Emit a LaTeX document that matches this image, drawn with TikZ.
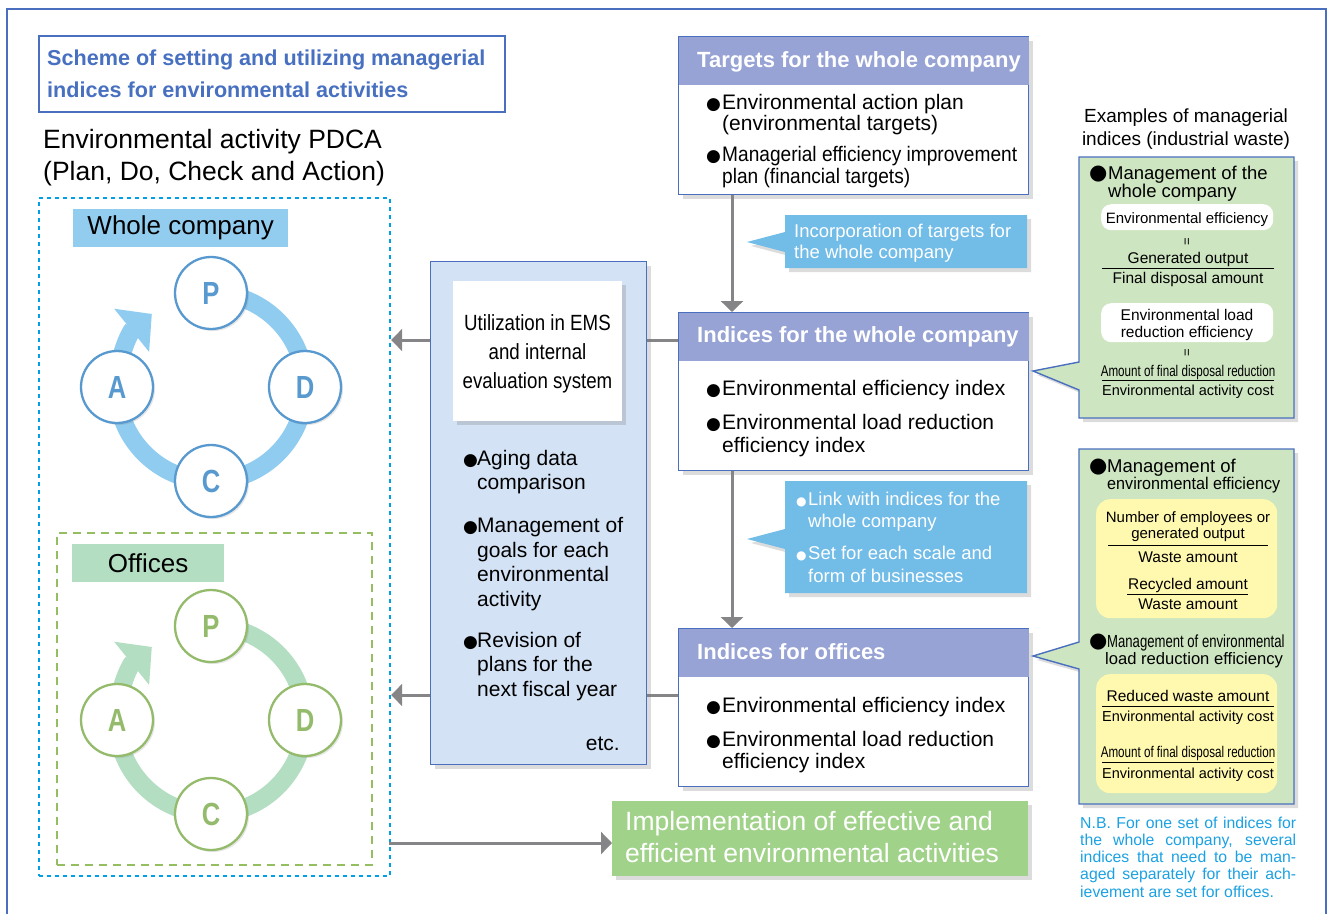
\documentclass[tikz,border=0pt]{standalone}
\usepackage{fontspec}
\usepackage{graphicx}
\setmainfont{Liberation Sans}
\newfontfamily\cnd[FakeStretch=0.85]{Liberation Sans}
\newfontfamily\cndL[FakeStretch=0.8]{Liberation Sans}
\newfontfamily\cndB[FakeStretch=0.75]{Liberation Sans}
\newfontfamily\cndC[FakeStretch=0.91]{Liberation Sans}
\newfontfamily\cndD[FakeStretch=0.95]{Liberation Sans}
\newfontfamily\dvs{DejaVu Sans}
\usetikzlibrary{arrows.meta,shadows}
\newcommand\fsz[2]{\fontsize{#1}{#2}\selectfont}
\newcommand\topr[1]{\rule{0pt}{#1pt}}
\newcommand\bul[2]{\makebox[#1pt][l]{\dvs\fontsize{#2}{0}\selectfont●}}
\definecolor{frameblue}{RGB}{74,111,191}
\definecolor{titleblue}{RGB}{72,112,192}
\definecolor{hdr}{RGB}{151,163,212}
\definecolor{dotcyan}{RGB}{0,160,226}
\definecolor{calblue}{RGB}{114,188,232}
\definecolor{ringblue}{RGB}{143,204,240}
\definecolor{circblue}{RGB}{88,153,207}
\definecolor{ringgreen}{RGB}{179,222,193}
\definecolor{circgreen}{RGB}{148,187,107}
\definecolor{dashgreen}{RGB}{148,190,95}
\definecolor{midfill}{RGB}{211,226,244}
\definecolor{rgreen}{RGB}{205,229,192}
\definecolor{implgreen}{RGB}{161,210,138}
\definecolor{yel}{RGB}{255,249,176}
\definecolor{arrgray}{RGB}{133,133,135}
\definecolor{nbcyan}{RGB}{27,161,226}
\definecolor{labelblue}{RGB}{146,205,240}
\definecolor{labelgreen}{RGB}{179,222,193}
\tikzset{
 shad/.style={drop shadow={shadow xshift=4pt,shadow yshift=-4pt,opacity=.25,fill=black!55}},
 cshad/.style={drop shadow={shadow xshift=2pt,shadow yshift=-2pt,opacity=.2,fill=black!50}},
 wbox/.style={draw=frameblue,line width=1.4pt,fill=white,shad,inner sep=0pt,anchor=north west},
 txt/.style={inner sep=0pt,anchor=north west,align=left},
 btxt/.style={inner sep=0pt,anchor=base},
 garrow/.style={draw=arrgray,line width=3pt,-{Triangle[length=11pt,width=22pt]}},
 pdcab/.style={circle,draw=circblue,line width=2.3pt,fill=white,minimum size=72pt,inner sep=0pt,text=circblue,font=\cndL\bfseries\fsz{32}{32},cshad},
 pdcag/.style={pdcab,draw=circgreen,text=circgreen},
 ringb/.style={draw=ringblue,line width=18pt,-{Triangle[length=26pt,width=54pt]}},
 ringg/.style={ringb,draw=ringgreen},
 fr/.style={line width=0.9pt,draw=black},
 rbox/.style={fill=rgreen,draw=frameblue,line width=1.4pt,shad},
 pill/.style={rounded corners=10pt,inner sep=0pt,anchor=north west},
}
\begin{document}
\begin{tikzpicture}[x=1pt,y=1pt]
\useasboundingbox (0,0) rectangle (1329,-914);
% outer frame
\draw[frameblue,line width=1.5pt] (7,-914) -- (7,-9) -- (1326,-9) -- (1326,-914);
% title
\node[draw=frameblue,line width=1.5pt,minimum width=466pt,minimum height=76pt,anchor=north west,inner sep=0pt] (titlebox) at (38,-35) {};
\node[txt,text=titleblue,font=\bfseries\fsz{21.6}{32}] (title) at (47,-43.4) {\topr{21.6}Scheme of setting and utilizing managerial\\indices for environmental activities};
\node[txt,font=\fsz{26.5}{32}] (pdcahead) at (43,-121.5) {\topr{26.5}Environmental activity PDCA\\(Plan, Do, Check and Action)};
% PDCA frames
\node[draw=dotcyan,line width=2.2pt,dash pattern=on 4pt off 4pt,minimum width=351pt,minimum height=678pt,anchor=north west,inner sep=0pt] (wholebox) at (38,-197) {};
\node[draw=dashgreen,line width=2pt,dash pattern=on 8pt off 6pt,minimum width=315pt,minimum height=332pt,anchor=north west,inner sep=0pt] (officebox) at (56,-532) {};
\node[fill=labelblue,minimum width=215pt,minimum height=38pt,anchor=north west,inner sep=0pt,font=\fsz{26}{26}] (wlabel) at (73,-209) {Whole company};
\node[fill=labelgreen,minimum width=152pt,minimum height=38pt,anchor=north west,inner sep=0pt,font=\fsz{26}{26}] (olabel) at (72,-544) {Offices};
% whole company cycle
\draw[ringb] (211,-387) ++(90:94) arc[start angle=90,end angle=-231,radius=94];
\node[pdcab] (wP) at (211,-293) {P};
\node[pdcab] (wD) at (305,-387) {D};
\node[pdcab] (wC) at (211,-481) {C};
\node[pdcab] (wA) at (117,-387) {A};
% offices cycle
\draw[ringg] (211,-720) ++(90:94) arc[start angle=90,end angle=-231,radius=94];
\node[pdcag] (oP) at (211,-626) {P};
\node[pdcag] (oD) at (305,-720) {D};
\node[pdcag] (oC) at (211,-814) {C};
\node[pdcag] (oA) at (117,-720) {A};
% right column boxes
\node[wbox,minimum width=350pt,minimum height=158pt] (targets) at (678,-36) {};
\fill[hdr] ([shift={(0.7pt,-0.7pt)}]targets.north west) rectangle ([shift={(-0.7pt,-49pt)}]targets.north east);
\node[wbox,minimum width=350pt,minimum height=158pt] (indW) at (678,-312) {};
\fill[hdr] ([shift={(0.7pt,-0.7pt)}]indW.north west) rectangle ([shift={(-0.7pt,-49pt)}]indW.north east);
\node[wbox,minimum width=350pt,minimum height=158pt] (indO) at (678,-628) {};
\fill[hdr] ([shift={(0.7pt,-0.7pt)}]indO.north west) rectangle ([shift={(-0.7pt,-49pt)}]indO.north east);
% arrows to PDCA (behind middle box)
\coordinate (aw) at ([yshift=-28pt]indW.north west);
\coordinate (ao) at ([yshift=-67pt]indO.north west);
\draw[garrow] (aw) -- (aw -| wholebox.east);
\draw[garrow] (ao) -- (ao -| wholebox.east);
% middle box
\node[fill=midfill,draw=frameblue,line width=1.4pt,shad,minimum width=216pt,minimum height=503pt,anchor=north west,inner sep=0pt] (midbox) at (430,-261) {};
\node[fill=white,shad,minimum width=169pt,minimum height=140pt,anchor=north west,inner sep=0pt] (emsbox) at (453,-281) {};
\node[txt,anchor=north,align=center,font=\cnd\fsz{22}{29}] (emstext) at (537.5,-308) {\topr{22}Utilization in EMS\\and internal\\evaluation system};
\node[txt,font=\fsz{21}{24.5}] (midlist) at (463,-444) {\topr{21}\bul{14}{17}Aging data\\\hspace{14pt}comparison\\[18.5pt]\bul{14}{17}Management of\\\hspace{14pt}goals for each\\\hspace{14pt}environmental\\\hspace{14pt}activity\\[16.5pt]\bul{14}{17}Revision of\\\hspace{14pt}plans for the\\\hspace{14pt}next fiscal year};
\node[inner sep=0pt,anchor=base east,font=\fsz{21}{21}] (etc) at (620,-750) {etc.};
% box texts
\node[inner sep=0pt,anchor=base west,text=white,font=\bfseries\fsz{22}{22}] (tgth) at (697,-67) {Targets for the whole company};
\node[txt,font=\fsz{21}{21.5}] (tgtlist) at (706,-88) {\topr{21}\bul{16}{17}Environmental action plan\\\hspace{16pt}(environmental targets)\\[9.5pt]\bul{16}{17}{\cndC Managerial efficiency improvement}\\\hspace{16pt}{\cndC plan (financial targets)}};
\node[inner sep=0pt,anchor=base west,text=white,font=\bfseries\fsz{22}{22}] (indWh) at (697,-342) {Indices for the whole company};
\node[txt,font=\fsz{21}{23}] (indWlist) at (706,-374) {\topr{21}\bul{16}{17}Environmental efficiency index\\[11pt]\bul{16}{17}Environmental load reduction\\\hspace{16pt}efficiency index};
\node[inner sep=0pt,anchor=base west,text=white,font=\bfseries\fsz{22}{22}] (indOh) at (697,-659) {Indices for offices};
\node[txt,font=\fsz{21}{22}] (indOlist) at (706,-691) {\topr{21}\bul{16}{17}Environmental efficiency index\\[12pt]\bul{16}{17}Environmental load reduction\\\hspace{16pt}efficiency index};
% vertical arrows
\draw[garrow] ([xshift=54pt]targets.south west) -- ([xshift=54pt]indW.north west);
\draw[garrow] ([xshift=54pt]indW.south west) -- ([xshift=54pt]indO.north west);
% callouts
\fill[calblue,shad] (785,-215) -- (1027,-215) -- (1027,-268) -- (785,-268) -- (785,-252) -- (747,-242) -- (785,-232) -- cycle;
\node[txt,text=white,font=\fsz{18.5}{21}] (c1text) at (794,-218.5) {\topr{18.5}Incorporation of targets for\\the whole company};
\fill[calblue,shad] (785,-481) -- (1027,-481) -- (1027,-593) -- (785,-593) -- (785,-549) -- (747,-539) -- (785,-529) -- cycle;
\node[txt,text=white,font=\fsz{18.5}{22.5}] (c2text) at (796,-486.5) {\topr{18.5}\bul{12}{12}Link with indices for the\\\hspace{12pt}whole company\\[9.5pt]\bul{12}{12}Set for each scale and\\\hspace{12pt}form of businesses};
% implementation
\node[fill=implgreen,shad,minimum width=416pt,minimum height=75pt,anchor=north west,inner sep=0pt] (impl) at (612,-801) {};
\node[txt,text=white,font=\fsz{26.5}{32}] (impltext) at (625,-803.5) {\topr{26.5}Implementation of effective and\\efficient environmental activities};
\coordinate (ai) at (389,-843);
\draw[garrow] (ai) -- (ai -| impl.west);
% N.B.
\node[anchor=north west,inner sep=0pt,text width=216pt,align=justify,text=nbcyan,font=\fsz{15.8}{17.2}] (nb) at (1080,-812.2) {\noindent\tolerance=10000\hyphenpenalty=10000\topr{15.8}N.B. For one set of indices for\linebreak the whole company, several\linebreak indices that need to be man-\linebreak aged separately for their ach-\linebreak ievement are set for offices.};
% examples heading
\node[txt,anchor=north,align=center,font=\fsz{19}{23}] (exhead) at (1186,-103) {\topr{19}Examples of managerial\\indices (industrial waste)};
% right top green box
\fill[rbox] (1079,-157) -- (1294,-157) -- (1294,-418) -- (1079,-418) -- (1079,-390) -- (1033,-371) -- (1079,-362) -- cycle;
\node[txt,font=\fsz{18.5}{18}] (rt1) at (1089,-160.5) {\topr{18.5}\bul{19}{21}Management of the\\\hspace{19pt}whole company};
\node[pill,fill=white,minimum width=172pt,minimum height=26pt] (wb1) at (1101,-204) {};
\node[btxt,font=\fsz{15}{15}] (wb1t) at (1187,-223) {Environmental efficiency};
\node[inner sep=0pt,font=\fsz{13}{13}] (eq1) at (1188,-242) {\rotatebox{90}{=}};
\node[btxt,font=\fsz{15.5}{15.5}] (f1n) at (1188,-263) {Generated output};
\draw[fr] (1102,-268) -- (1274,-268);
\node[btxt,font=\fsz{15.5}{15.5}] (f1d) at (1188,-283) {Final disposal amount};
\node[pill,fill=white,minimum width=172pt,minimum height=39pt] (wb2) at (1101,-303) {};
\node[txt,anchor=north,align=center,font=\fsz{15.5}{17}] (wb2t) at (1187,-304.5) {\topr{15.5}Environmental load\\reduction efficiency};
\node[inner sep=0pt,font=\fsz{13}{13}] (eq2) at (1188,-353) {\rotatebox{90}{=}};
\node[btxt,font=\cndB\fsz{15.5}{15.5}] (f2n) at (1188,-376) {Amount of final disposal reduction};
\draw[fr] (1102,-380) -- (1274,-380);
\node[btxt,font=\fsz{14.5}{14.5}] (f2d) at (1188,-395) {Environmental activity cost};
% right bottom green box
\fill[rbox] (1079,-449) -- (1294,-449) -- (1294,-804) -- (1079,-804) -- (1079,-669) -- (1033,-656) -- (1079,-642) -- cycle;
\node[txt,font=\fsz{18.5}{17}] (rb1) at (1089,-453.5) {\topr{18.5}\bul{18}{21}Management of\\\hspace{18pt}{\cndD\fsz{17}{17}environmental efficiency}};
\node[pill,fill=yel,rounded corners=14pt,minimum width=181pt,minimum height=119pt] (yb1) at (1096,-499) {};
\node[txt,anchor=north,align=center,font=\fsz{15}{16}] (yb1t) at (1188,-507) {\topr{15}Number of employees or\\generated output};
\draw[fr] (1108,-545) -- (1268,-545);
\node[btxt,font=\fsz{15.5}{15.5}] (yb1d) at (1188,-562) {Waste amount};
\node[btxt,font=\fsz{15.5}{15.5}] (yb2n) at (1188,-589) {Recycled amount};
\draw[fr] (1127,-594) -- (1248,-594);
\node[btxt,font=\fsz{15.5}{15.5}] (yb2d) at (1188,-609) {Waste amount};
\node[txt,font=\fsz{17.5}{17}] (rb2) at (1089,-629.5) {\topr{17.5}\bul{18}{21}{\cndB Management of environmental}\\\hspace{16pt}{\fsz{16.6}{17}load reduction efficiency}};
\node[pill,fill=yel,rounded corners=14pt,minimum width=181pt,minimum height=119pt] (yb2) at (1096,-674) {};
\node[btxt,font=\fsz{15.5}{15.5}] (yb3n) at (1188,-701) {Reduced waste amount};
\draw[fr] (1102,-706) -- (1274,-706);
\node[btxt,font=\fsz{14.5}{14.5}] (yb3d) at (1188,-721) {Environmental activity cost};
\node[btxt,font=\cndB\fsz{15.5}{15.5}] (yb4n) at (1188,-757) {Amount of final disposal reduction};
\draw[fr] (1102,-762) -- (1274,-762);
\node[btxt,font=\fsz{14.5}{14.5}] (yb4d) at (1188,-778) {Environmental activity cost};
\end{tikzpicture}
\end{document}
